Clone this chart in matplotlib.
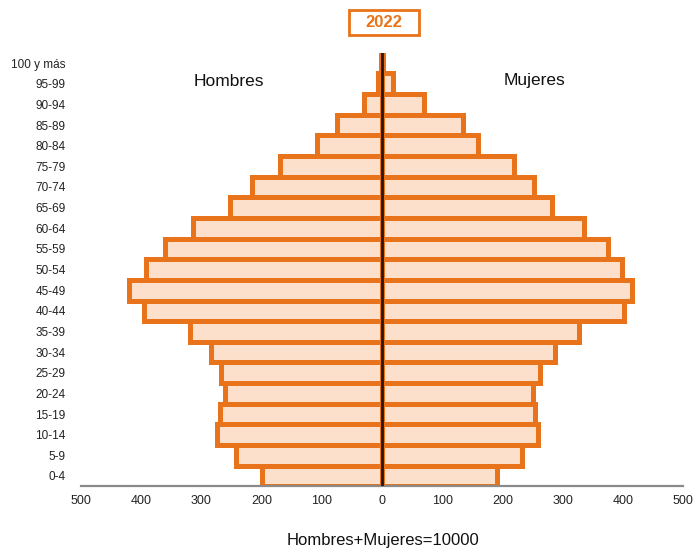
import matplotlib.pyplot as plt
import numpy as np
from matplotlib.patches import Rectangle

plt.rcParams["font.family"] = ["Liberation Sans", "DejaVu Sans"]

age_groups = ["0-4", "5-9", "10-14", "15-19", "20-24", "25-29", "30-34", "35-39",
              "40-44", "45-49", "50-54", "55-59", "60-64", "65-69", "70-74",
              "75-79", "80-84", "85-89", "90-94", "95-99", "100 y más"]
hombres = [199, 243, 274, 269, 261, 267, 284, 319, 395, 420, 392, 360, 314,
           252, 216, 170, 108, 75, 30, 7, 1]
mujeres = [191, 232, 259, 254, 251, 262, 287, 327, 402, 415, 399, 375, 336,
           282, 253, 219, 160, 135, 70, 19, 2]
x_ticks = [-500, -400, -300, -200, -100, 0, 100, 200, 300, 400, 500]

ORANGE = "#E8731A"
FILL = "#FCE0CB"
W, H = 696, 553

fig = plt.figure(figsize=(W / 100, H / 100), dpi=100)
ax = fig.add_axes([0.1164, 0.1206, 0.865, 0.784])

y = np.arange(len(age_groups))
ax.barh(y, -np.array(hombres), height=1.0, color=FILL, edgecolor=ORANGE, linewidth=3.6)
ax.barh(y, mujeres, height=1.0, color=FILL, edgecolor=ORANGE, linewidth=3.6)
ax.plot([0, 0], [-0.5, 20.85], color="#2a1608", lw=2, zorder=5)

ax.set_xlim(-500, 500)
ax.set_ylim(-0.5, 20.5)
ax.set_yticks(y)
ax.set_yticklabels(age_groups, fontsize=8.5, color="#222222")
ax.set_xticks(x_ticks)
ax.set_xticklabels([str(abs(v)) for v in x_ticks], fontsize=9, color="#222222")
ax.tick_params(axis="both", length=0)
ax.tick_params(axis="y", pad=11)
ax.tick_params(axis="x", pad=6)
for side in ("top", "left", "right"):
    ax.spines[side].set_visible(False)
ax.spines["bottom"].set_color("#8a8a8a")
ax.spines["bottom"].set_linewidth(1.6)

ax.text(-255, 19.1, "Hombres", fontsize=12.5, ha="center", va="center", color="#111111")
ax.text(253, 19.15, "Mujeres", fontsize=12.5, ha="center", va="center", color="#111111")

# year box above the pyramid
fig.patches.append(Rectangle((349 / W, 1 - 35 / H), 70 / W, 25 / H, transform=fig.transFigure,
                             facecolor="white", edgecolor=ORANGE, linewidth=2))
fig.text(384 / W, 1 - 22.5 / H, "2022", fontsize=12, fontweight="bold", color=ORANGE,
         ha="center", va="center")
fig.text(383 / W, 1 - 541 / H, "Hombres+Mujeres=10000", fontsize=12, ha="center", va="center",
         color="#111111")

fig.savefig("out.png", dpi=100)
